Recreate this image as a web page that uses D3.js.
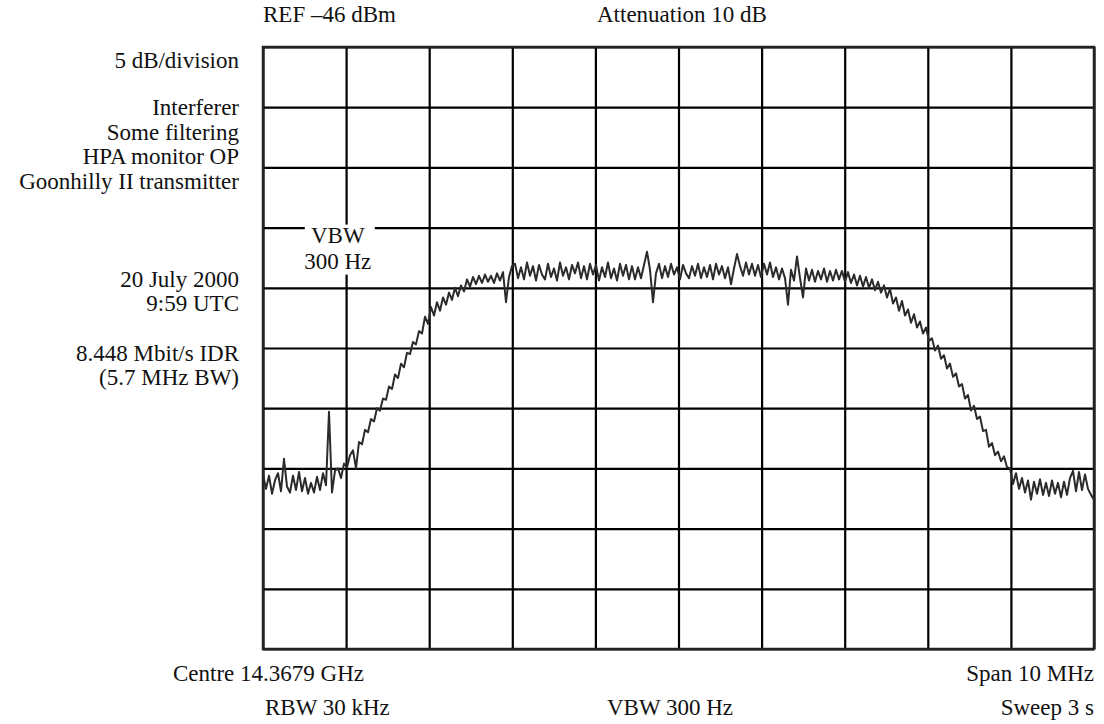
<!DOCTYPE html>
<html>
<head>
<meta charset="utf-8">
<script src="https://cdn.jsdelivr.net/npm/d3@7"></script>
<style>
  body { margin: 0; background: #fff; }
  text { font-family: "Liberation Serif", "DejaVu Serif", serif; font-size: 23px; fill: #111; }
</style>
</head>
<body>
<div id="graph"></div>
<script>
// Analyser settings
const refLevel = -46;      // dBm at top of screen
const dbPerDiv = 5;
const spanMHz = 10;

// Header / footer / side notes
const headerLabels = ["REF \u201346 dBm", "Attenuation 10 dB"];
const sideNotes = ["5 dB/division", "Interferer", "Some filtering", "HPA monitor OP",
  "Goonhilly II transmitter", "20 July 2000", "9:59 UTC", "8.448 Mbit/s IDR", "(5.7 MHz BW)"];
const footerRow1 = ["Centre 14.3679 GHz", "Span 10 MHz"];
const footerRow2 = ["RBW 30 kHz", "VBW 300 Hz", "Sweep 3 s"];
const traceLabel = ["VBW", "300 Hz"];

// Trace in dBm, evenly spaced sweep points across the span
const traceDbm = [
  -81.5, -82.7, -81.6, -83.1, -82.0, -81.4, -82.9, -80.2, -82.5, -83.0,
  -81.6, -82.8, -81.3, -82.9, -81.8, -83.1, -82.2, -83.0, -81.7, -82.8,
  -81.4, -82.4, -76.3, -83.0, -81.2, -81.0, -81.8, -80.6, -80.9, -79.9,
  -79.5, -81.0, -78.8, -79.0, -77.8, -78.0, -76.9, -77.1, -76.0, -76.2,
  -75.2, -75.3, -74.2, -74.4, -73.2, -73.5, -72.3, -72.6, -71.4, -71.5,
  -70.5, -70.7, -69.6, -69.8, -68.4, -69.0, -67.6, -68.3, -67.2, -67.9,
  -66.8, -67.4, -66.4, -67.0, -66.0, -66.7, -65.8, -66.3, -65.3, -65.9,
  -65.1, -65.7, -65.0, -65.6, -64.9, -65.5, -65.0, -65.6, -64.8, -65.4,
  -64.7, -67.2, -65.1, -64.2,
  -64.0, -65.2, -64.3, -65.3, -63.9, -65.0, -64.2, -65.4, -64.1, -64.9,
  -65.3, -64.0, -65.1, -64.4, -65.4, -63.9, -65.0, -64.3, -65.3, -64.1,
  -64.8, -63.9, -65.2, -64.2, -65.3, -64.0, -64.9, -64.1, -65.4, -64.3,
  -65.1, -63.9, -65.2, -64.4, -65.4, -64.0, -65.0, -64.1, -65.3, -64.2,
  -65.3, -64.3, -65.2, -64.1, -63.0, -64.5, -67.2, -64.8, -64.0, -65.2,
  -64.2, -65.1, -64.0, -64.9, -64.3, -65.3, -64.1, -64.8, -65.2, -64.2,
  -65.0, -64.0, -65.2, -64.3, -65.1, -64.1, -65.3, -64.0, -64.9, -64.2,
  -65.2, -64.3, -65.7, -64.4, -63.2, -64.2, -65.0, -63.9, -64.9, -64.0,
  -65.0, -64.1, -65.1, -64.0, -64.9, -63.9, -65.1, -64.3, -65.3, -64.4,
  -65.2, -67.4, -64.5, -65.4, -63.4, -65.2, -66.8, -64.4, -65.4, -64.5,
  -65.5, -64.6, -65.3, -64.4, -65.5, -64.6, -65.4, -64.5,
  -65.3, -64.6, -65.5, -64.7, -65.6, -64.9, -65.8, -65.0, -65.9, -65.1,
  -66.0, -65.3, -66.2, -65.5, -66.4, -65.8, -66.8, -66.1, -67.3, -66.8,
  -67.9, -67.1, -68.3, -67.8, -68.9, -68.2, -69.3, -68.8, -69.8, -69.3,
  -70.4, -70.2, -71.2, -70.8, -71.9, -71.6, -72.7, -72.3, -73.4, -73.1,
  -74.2, -74.0, -75.2, -74.9, -76.2, -75.8, -76.9, -76.7, -77.9, -77.8,
  -79.2, -78.9, -79.9, -79.6, -80.4, -80.0, -80.9, -81.0,
  -82.3, -81.4, -82.7, -81.8, -83.0, -82.0, -83.6, -82.1, -83.1, -81.9,
  -83.2, -82.2, -83.3, -82.0, -83.1, -82.2, -83.4, -82.1, -83.2, -81.8,
  -81.2, -82.9, -81.3, -82.8, -81.5, -82.7, -83.2, -83.6
];

const width = 1104;
const height = 724;
const margin = { top: 47, right: 10, bottom: 73, left: 263 };

const svg = d3.select('#graph').append('svg')
  .attr('width', width)
  .attr('height', height);

// Scales: frequency offset (MHz) and level (dBm)
const x = d3.scaleLinear()
  .domain([-spanMHz / 2, spanMHz / 2])
  .range([margin.left, width - margin.right]);

const y = d3.scaleLinear()
  .domain([refLevel - 10 * dbPerDiv, refLevel])
  .range([height - margin.bottom - 2, margin.top]);

const xDivs = d3.range(-spanMHz / 2, spanMHz / 2 + 0.5, 1);
const yDivs = d3.range(refLevel - 10 * dbPerDiv, refLevel + 1, dbPerDiv);

// Graticule via axes with full-length ticks
svg.append('g')
  .attr('transform', `translate(0, ${y.range()[0]})`)
  .call(d3.axisBottom(x).tickValues(xDivs).tickSize(y.range()[1] - y.range()[0]).tickFormat(''))
  .call(g => g.select('.domain').remove())
  .call(g => g.selectAll('line').attr('stroke', '#000').attr('stroke-width', 2.2));

svg.append('g')
  .attr('transform', `translate(${x.range()[0]}, 0)`)
  .call(d3.axisLeft(y).tickValues(yDivs).tickSize(x.range()[0] - x.range()[1]).tickFormat(''))
  .call(g => g.select('.domain').remove())
  .call(g => g.selectAll('line').attr('stroke', '#000').attr('stroke-width', 2.2));

// Outer frame
svg.append('rect')
  .attr('x', x.range()[0])
  .attr('y', y.range()[1])
  .attr('width', x.range()[1] - x.range()[0])
  .attr('height', y.range()[0] - y.range()[1])
  .attr('fill', 'none')
  .attr('stroke', '#222')
  .attr('stroke-width', 2.5);

// White patch behind the in-plot VBW note
const noteX = x(-4.1);
const lineY = y(-61);
svg.append('rect')
  .attr('x', noteX - 33)
  .attr('y', lineY - 3)
  .attr('width', 70)
  .attr('height', 50)
  .attr('fill', '#fff');

svg.selectAll('.note')
  .data(traceLabel)
  .enter().append('text')
  .attr('class', 'note')
  .attr('x', noteX)
  .attr('y', (d, i) => lineY + 15 + i * 26)
  .attr('text-anchor', 'middle')
  .text(d => d);

// Trace
const line = d3.line()
  .x((d, i) => x(-spanMHz / 2 + i * spanMHz / (traceDbm.length - 1)))
  .y(d => y(d));

svg.append('path')
  .datum(traceDbm)
  .attr('d', line)
  .attr('fill', 'none')
  .attr('stroke', '#2b2b2b')
  .attr('stroke-width', 2)
  .attr('stroke-linejoin', 'round');

// Header
svg.append('text').attr('x', 263).attr('y', 22).text(headerLabels[0]);
svg.append('text').attr('x', 597).attr('y', 22).text(headerLabels[1]);

// Side notes (right aligned)
const sideY = [68, 115, 140, 164, 189, 287, 311, 361, 385];
svg.selectAll('.side')
  .data(sideNotes)
  .enter().append('text')
  .attr('class', 'side')
  .attr('x', 239)
  .attr('y', (d, i) => sideY[i])
  .attr('text-anchor', 'end')
  .text(d => d);

// Footer
svg.append('text').attr('x', 173).attr('y', 681).text(footerRow1[0]);
svg.append('text').attr('x', 1094).attr('y', 681).attr('text-anchor', 'end').text(footerRow1[1]);
svg.append('text').attr('x', 265).attr('y', 715).text(footerRow2[0]);
svg.append('text').attr('x', 607).attr('y', 715).text(footerRow2[1]);
svg.append('text').attr('x', 1094).attr('y', 715).attr('text-anchor', 'end').text(footerRow2[2]);
</script>
</body>
</html>
